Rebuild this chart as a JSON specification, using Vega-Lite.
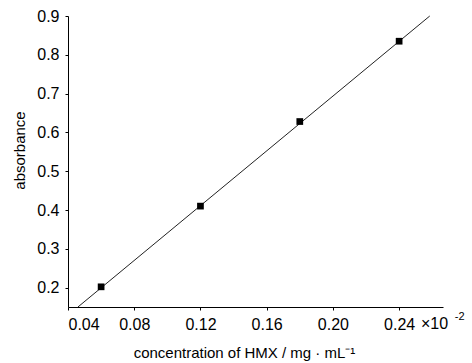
{
  "$schema": "https://vega.github.io/schema/vega-lite/v6.json",
  "width": 375,
  "height": 291,
  "autosize": "none",
  "padding": {"left": 68, "top": 16, "right": 29, "bottom": 56},
  "background": "white",
  "config": {
    "view": {"stroke": null},
    "font": "Liberation Sans",
    "axis": {
      "grid": false,
      "domainColor": "black",
      "tickColor": "black",
      "labelColor": "black",
      "titleColor": "black",
      "labelFont": "Liberation Sans",
      "titleFont": "Liberation Sans",
      "titleFontWeight": "normal",
      "tickSize": 3,
      "labelPadding": 6
    }
  },
  "datasets": {
    "pts": [
      {"conc": 0.06, "abs": 0.202},
      {"conc": 0.12, "abs": 0.41},
      {"conc": 0.18, "abs": 0.628},
      {"conc": 0.24, "abs": 0.835}
    ],
    "fit": [
      {"conc": 0.046, "abs": 0.15},
      {"conc": 0.2585, "abs": 0.9}
    ],
    "mult": [
      {"conc": 0.2532, "abs": 0.15, "label": "×10"}
    ],
    "expo": [
      {"conc": 0.2736, "abs": 0.15, "label": "-2"}
    ]
  },
  "layer": [
    {
      "data": {"name": "fit"},
      "mark": {"type": "line", "color": "#222", "strokeWidth": 1, "clip": false},
      "encoding": {
        "x": {
          "field": "conc", "type": "quantitative",
          "scale": {"domain": [0.04, 0.2665], "nice": false, "zero": false},
          "axis": {
            "values": [0.04, 0.08, 0.12, 0.16, 0.20, 0.24],
            "format": ".2f",
            "labelFontSize": 16,
            "titleFontSize": 15,
            "title": "concentration of HMX /  mg · mL⁻¹",
            "titleX": 176,
            "titleY": 50,
            "titleBaseline": "alphabetic"
          }
        },
        "y": {
          "field": "abs", "type": "quantitative",
          "scale": {"domain": [0.15, 0.9], "nice": false, "zero": false},
          "axis": {
            "values": [0.2, 0.3, 0.4, 0.5, 0.6, 0.7, 0.8, 0.9],
            "format": ".1f",
            "labelFontSize": 16,
            "titleFontSize": 15,
            "title": "absorbance",
            "titleAngle": -90,
            "titleX": -44,
            "titleY": 134,
            "titleBaseline": "alphabetic",
            "titleAlign": "center"
          }
        }
      }
    },
    {
      "data": {"name": "pts"},
      "mark": {"type": "square", "color": "black", "opacity": 1, "size": 45},
      "encoding": {
        "x": {"field": "conc", "type": "quantitative"},
        "y": {"field": "abs", "type": "quantitative"}
      }
    },
    {
      "data": {"name": "mult"},
      "mark": {"type": "text", "align": "left", "baseline": "alphabetic", "dy": 22, "fontSize": 16, "color": "black", "clip": false},
      "encoding": {
        "x": {"field": "conc", "type": "quantitative"},
        "y": {"field": "abs", "type": "quantitative"},
        "text": {"field": "label"}
      }
    },
    {
      "data": {"name": "expo"},
      "mark": {"type": "text", "align": "left", "baseline": "alphabetic", "dy": 13, "fontSize": 11, "color": "black", "clip": false},
      "encoding": {
        "x": {"field": "conc", "type": "quantitative"},
        "y": {"field": "abs", "type": "quantitative"},
        "text": {"field": "label"}
      }
    }
  ]
}
